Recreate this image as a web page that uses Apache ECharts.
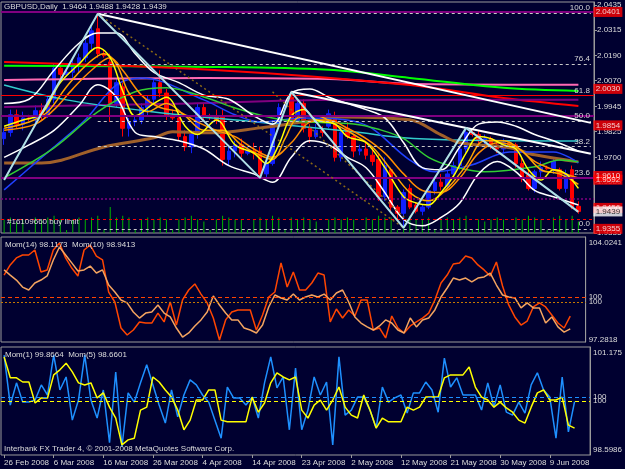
<!DOCTYPE html>
<html>
<head>
<meta charset="utf-8">
<script src="https://cdn.jsdelivr.net/npm/echarts@6/dist/echarts.min.js"></script>
<style>
  html, body { margin: 0; padding: 0; background: #000030; }
  #chart { width: 625px; height: 469px; }
</style>
</head>
<body>
<div id="chart"></div>
<script>
// bars, one per trading day (Sunday bars included), two empty slots for the chart shift
const dates = [
  '26 Feb 2008','27 Feb 2008','28 Feb 2008','29 Feb 2008','2 Mar 2008','3 Mar 2008','4 Mar 2008','5 Mar 2008',
  '6 Mar 2008','7 Mar 2008','9 Mar 2008','10 Mar 2008','11 Mar 2008','12 Mar 2008','13 Mar 2008','14 Mar 2008',
  '16 Mar 2008','17 Mar 2008','18 Mar 2008','19 Mar 2008','20 Mar 2008','23 Mar 2008','24 Mar 2008','25 Mar 2008',
  '26 Mar 2008','27 Mar 2008','28 Mar 2008','30 Mar 2008','31 Mar 2008','1 Apr 2008','2 Apr 2008','3 Apr 2008',
  '4 Apr 2008','6 Apr 2008','7 Apr 2008','8 Apr 2008','9 Apr 2008','10 Apr 2008','11 Apr 2008','13 Apr 2008',
  '14 Apr 2008','15 Apr 2008','16 Apr 2008','17 Apr 2008','18 Apr 2008','20 Apr 2008','21 Apr 2008','22 Apr 2008',
  '23 Apr 2008','24 Apr 2008','25 Apr 2008','27 Apr 2008','28 Apr 2008','29 Apr 2008','30 Apr 2008','1 May 2008',
  '2 May 2008','4 May 2008','5 May 2008','6 May 2008','7 May 2008','8 May 2008','9 May 2008','11 May 2008',
  '12 May 2008','13 May 2008','14 May 2008','15 May 2008','16 May 2008','18 May 2008','19 May 2008','20 May 2008',
  '21 May 2008','22 May 2008','23 May 2008','25 May 2008','26 May 2008','27 May 2008','28 May 2008','29 May 2008',
  '30 May 2008','1 Jun 2008','2 Jun 2008','3 Jun 2008','4 Jun 2008','5 Jun 2008','6 Jun 2008','8 Jun 2008',
  '9 Jun 2008','10 Jun 2008','11 Jun 2008','12 Jun 2008','13 Jun 2008','',''
];

// [open, close, low, high]
const ohlc = [
  [1.9790,1.9820,1.9760,1.9840],[1.9820,1.9905,1.9800,1.9930],[1.9905,1.9860,1.9840,1.9930],[1.9860,1.9890,1.9830,1.9920],
  [1.9890,1.9885,1.9875,1.9905],[1.9885,1.9925,1.9860,1.9950],[1.9925,1.9900,1.9880,1.9960],[1.9900,1.9980,1.9890,2.0000],
  [1.9980,2.0130,1.9960,2.0150],[2.0130,2.0100,2.0080,2.0160],[2.0100,2.0110,2.0090,2.0120],[2.0110,2.0150,2.0070,2.0170],
  [2.0150,2.0180,2.0110,2.0200],[2.0180,2.0250,2.0160,2.0270],[2.0250,2.0310,2.0220,2.0330],[2.0320,2.0200,2.0180,2.0397],
  [2.0200,2.0190,2.0180,2.0220],[2.0160,1.9960,1.9870,2.0200],[1.9960,2.0060,1.9940,2.0080],[2.0040,1.9840,1.9800,2.0060],
  [1.9840,1.9870,1.9800,1.9890],[1.9870,1.9880,1.9850,1.9900],[1.9880,1.9940,1.9860,1.9960],[1.9940,1.9980,1.9900,2.0000],
  [1.9980,2.0060,1.9960,2.0080],[2.0060,2.0010,1.9990,2.0120],[2.0010,1.9900,1.9880,2.0030],[1.9900,1.9890,1.9880,1.9930],
  [1.9890,1.9800,1.9780,1.9910],[1.9800,1.9750,1.9730,1.9830],[1.9750,1.9810,1.9720,1.9830],[1.9810,1.9940,1.9790,1.9960],
  [1.9940,1.9900,1.9880,1.9960],[1.9900,1.9895,1.9880,1.9910],[1.9895,1.9880,1.9860,1.9930],[1.9900,1.9690,1.9660,1.9930],
  [1.9690,1.9730,1.9660,1.9760],[1.9730,1.9760,1.9700,1.9780],[1.9760,1.9720,1.9700,1.9790],[1.9720,1.9730,1.9710,1.9750],
  [1.9730,1.9720,1.9690,1.9770],[1.9730,1.9620,1.9600,1.9750],[1.9620,1.9670,1.9605,1.9690],[1.9670,1.9860,1.9660,1.9880],
  [1.9860,1.9940,1.9840,1.9960],[1.9940,1.9950,1.9920,1.9970],[1.9990,1.9870,1.9850,2.0020],[1.9870,1.9960,1.9860,1.9980],
  [1.9960,1.9840,1.9820,1.9980],[1.9840,1.9800,1.9770,1.9860],[1.9800,1.9830,1.9790,1.9860],[1.9830,1.9820,1.9800,1.9850],
  [1.9850,1.9910,1.9840,1.9930],[1.9900,1.9700,1.9680,1.9920],[1.9700,1.9820,1.9680,1.9840],[1.9840,1.9800,1.9790,1.9870],
  [1.9800,1.9730,1.9700,1.9810],[1.9730,1.9740,1.9710,1.9760],[1.9740,1.9710,1.9690,1.9780],[1.9710,1.9680,1.9660,1.9750],
  [1.9690,1.9510,1.9490,1.9720],[1.9510,1.9660,1.9490,1.9700],[1.9640,1.9460,1.9440,1.9650],[1.9460,1.9430,1.9400,1.9470],
  [1.9430,1.9530,1.9358,1.9545],[1.9550,1.9460,1.9450,1.9570],[1.9470,1.9440,1.9430,1.9480],[1.9440,1.9460,1.9420,1.9470],
  [1.9460,1.9540,1.9450,1.9560],[1.9540,1.9580,1.9520,1.9600],[1.9580,1.9560,1.9540,1.9620],[1.9560,1.9620,1.9550,1.9640],
  [1.9620,1.9660,1.9600,1.9680],[1.9660,1.9740,1.9640,1.9760],[1.9740,1.9820,1.9720,1.9842],[1.9820,1.9810,1.9800,1.9830],
  [1.9810,1.9780,1.9760,1.9830],[1.9780,1.9790,1.9740,1.9810],[1.9790,1.9760,1.9740,1.9800],[1.9760,1.9740,1.9720,1.9780],
  [1.9740,1.9770,1.9720,1.9790],[1.9770,1.9760,1.9750,1.9780],[1.9760,1.9670,1.9650,1.9770],[1.9670,1.9600,1.9580,1.9700],
  [1.9615,1.9550,1.9540,1.9640],[1.9550,1.9630,1.9530,1.9640],[1.9630,1.9650,1.9600,1.9680],[1.9650,1.9645,1.9640,1.9660],
  [1.9645,1.9680,1.9620,1.9700],[1.9640,1.9550,1.9540,1.9650],[1.9550,1.9620,1.9530,1.9640],[1.9640,1.9460,1.9450,1.9660],
  [1.9464,1.9439,1.9428,1.9488]
];

const volumes = [
  7,8,6,7,1.5,8,7,8, 9,7,1.5,7,8,7,8,9, 1.5,13.5,8,9,8,1.5,7,8, 7,8,7,1.5,7,8,9,7,
  6,1.5,7,9,8,7,7,1.5, 7,8,7,9,8,1.5,8,7, 8,7,6,1.5,7,8,7,8, 7,1.5,8,7,9,8,8,1.5,
  8,9,7,7,8,1.5,7,8, 7,8,9,1.5,7,6,7,8, 7,1.5,8,7,9,8,7,1.5, 8,9,7,9,6
];

// moving averages, read at [bar, price]
const maYellow = [[0,1.9850],[3,1.9880],[6,1.9910],[9,2.0060],[12,2.0150],[15,2.0230],[17,2.0180],[19,2.0020],[21,1.9900],[24,1.9960],[26,1.9990],[29,1.9850],[31,1.9810],[34,1.9880],[37,1.9760],[40,1.9720],[42,1.9670],[44,1.9760],[46,1.9900],[48,1.9930],[50,1.9880],[53,1.9860],[55,1.9800],[58,1.9770],[61,1.9650],[64,1.9510],[66,1.9480],[68,1.9470],[70,1.9530],[72,1.9610],[74,1.9720],[76,1.9800],[78,1.9790],[80,1.9760],[82,1.9740],[84,1.9640],[86,1.9590],[88,1.9640],[90,1.9620],[92,1.9550]];
const maOrange = [[0,1.9840],[4,1.9870],[7,1.9920],[10,2.0040],[13,2.0140],[16,2.0200],[18,2.0150],[20,2.0010],[23,1.9920],[26,1.9960],[29,1.9900],[32,1.9830],[35,1.9830],[38,1.9760],[41,1.9710],[43,1.9690],[45,1.9790],[47,1.9890],[50,1.9900],[53,1.9860],[56,1.9810],[59,1.9750],[62,1.9640],[65,1.9530],[68,1.9490],[71,1.9550],[74,1.9660],[77,1.9780],[80,1.9780],[83,1.9730],[86,1.9640],[89,1.9620],[92,1.9570]];
const maGold = [[0,1.9830],[5,1.9860],[8,1.9930],[11,2.0030],[14,2.0120],[17,2.0180],[19,2.0120],[22,2.0000],[25,1.9940],[28,1.9920],[31,1.9870],[34,1.9830],[37,1.9800],[40,1.9740],[43,1.9700],[46,1.9770],[49,1.9870],[52,1.9880],[55,1.9840],[58,1.9790],[61,1.9720],[64,1.9620],[67,1.9540],[70,1.9530],[73,1.9600],[76,1.9720],[79,1.9770],[82,1.9750],[85,1.9680],[88,1.9640],[92,1.9600]];
const bandUpper = [[0,1.9960],[4,1.9980],[8,2.0120],[12,2.0250],[15,2.0300],[18,2.0300],[21,2.0200],[24,2.0110],[28,2.0060],[32,2.0000],[36,1.9980],[40,1.9900],[43,1.9860],[46,2.0010],[49,2.0030],[52,1.9990],[55,1.9960],[58,1.9930],[61,1.9890],[64,1.9770],[67,1.9650],[70,1.9640],[73,1.9750],[76,1.9860],[79,1.9870],[82,1.9850],[85,1.9810],[88,1.9780],[92,1.9730]];
const bandLower = [[0,1.9700],[4,1.9760],[8,1.9830],[12,1.9950],[15,2.0050],[18,1.9990],[21,1.9820],[24,1.9800],[28,1.9780],[32,1.9740],[36,1.9660],[40,1.9620],[43,1.9580],[46,1.9700],[49,1.9780],[52,1.9760],[55,1.9700],[58,1.9650],[61,1.9530],[64,1.9400],[67,1.9370],[70,1.9410],[73,1.9480],[76,1.9620],[79,1.9680],[82,1.9630],[85,1.9540],[88,1.9510],[92,1.9470]];
const maBlue = [[0,1.9543],[5,1.9673],[8,1.9750],[13,1.9881],[18,2.0049],[22,2.0083],[32,1.9977],[37,1.9905],[41,1.9871],[48,1.9890],[57,1.9866],[65,1.9687],[69,1.9630],[75,1.9664],[81,1.9726],[88,1.9726],[92,1.9673]];
const maGreen = [[0,1.9601],[8,1.9746],[15,1.9919],[21,2.0016],[26,2.0035],[32,1.9991],[37,1.9938],[43,1.9890],[48,1.9871],[56,1.9861],[60,1.9835],[64,1.9790],[68,1.9700],[72,1.9655],[77,1.9630],[85,1.9654],[89,1.9687],[92,1.9678]];
const maCyan = [[0,2.0049],[10,1.9977],[24,1.9919],[40,1.9871],[56,1.9823],[64,1.9794],[72,1.9784],[92,1.9779]];
const maBrown = [[0,1.9673],[6,1.9673],[16,1.9750],[24,1.9794],[27,1.9823],[33,1.9818],[41,1.9842],[48,1.9871],[54,1.9895],[65,1.9881],[70,1.9808],[73,1.9770],[81,1.9746],[85,1.9712],[92,1.9678]];
const maPink = [[0,2.0073],[32,2.0083],[52,2.0078],[66,2.0054],[92,2.0050]];
const maLime = [[0,2.0141],[33,2.0136],[52,2.0122],[65,2.0083],[80,2.0035],[92,2.0020]];
const maRed = [[0,2.0160],[33,2.0122],[65,2.0049],[80,1.9986],[92,1.9948]];
const maPurple = [[0,1.9943],[30,1.9960],[55,1.9977],[92,1.9977]];

// drawn objects
const trendTop = [[15,2.0392],[94,1.9866]];
const trendMid = [[46,2.0016],[94,1.9717]];
const trendDot1 = [[15,2.0392],[64,1.9360]];
const trendDot2 = [[43,2.0016],[65,1.9384]];
const zigzag = [[0,1.9591],[15,2.0392],[41,1.9601],[46,2.0016],[64,1.9360],[74,1.9842],[92,1.9437]];
const fibPrices = [2.0397, 2.0150, 1.9999, 1.9876, 1.9753, 1.9601, 1.9355];
const fibLabels = ['100.0', '76.4', '61.8', '50.0', '38.2', '23.6', '0.0'];
const levelPrices = [2.0401, 2.0030, 1.9854, 1.9610, 1.9592, 1.9456, 1.9355];
const lastPrice = 1.9439;
const priceTicks = [1.9335, 1.9455, 1.9580, 1.9700, 1.9825, 1.9945, 2.0070, 2.0190, 2.0315, 2.0435];

// momentum panels
const mom10 = [101.58,102.23,102.68,102.87,102.87,103.19,101.78,101.91,
  103.19,103.64,102.68,102.03,101.52,103.19,103.51,102.80,
  102.55,100.49,99.85,98.18,97.73,98.05,98.57,98.50,
  98.50,99.14,98.57,99.85,98.37,99.98,100.62,101.01,
  100.36,99.79,98.82,97.41,98.70,99.21,99.34,99.34,
  99.34,98.05,99.02,100.17,100.49,102.36,100.81,101.78,
  100.62,100.62,101.07,101.71,101.58,98.57,99.40,98.82,
  99.34,98.95,99.98,99.98,98.05,98.18,97.54,98.95,
  98.18,97.86,98.31,98.57,98.82,99.14,99.98,101.07,
  101.58,102.29,102.36,102.80,102.68,102.23,101.91,101.52,
  102.42,100.88,99.66,98.89,98.37,98.63,99.53,99.79,
  99.53,99.02,98.50,98.18,98.94];
const mom14 = [101.91,101.58,101.26,100.81,100.62,101.07,101.26,101.52,
  102.55,103.38,102.87,102.36,101.84,101.91,102.16,101.71,
  101.91,100.94,100.49,99.98,99.79,99.21,98.82,99.14,
  99.21,99.66,99.14,98.89,98.18,97.60,97.86,98.31,
  98.70,99.21,100.24,99.66,99.14,98.70,98.70,98.18,
  98.05,97.86,98.37,99.53,100.30,100.11,99.98,100.36,
  99.98,100.17,100.30,100.17,100.36,99.98,100.43,100.62,
  99.85,98.89,98.50,98.25,98.05,98.31,98.70,98.50,
  98.05,97.86,98.82,98.25,98.70,98.82,99.34,100.17,
  100.75,101.39,101.26,101.39,101.14,101.39,101.46,101.71,
  100.94,100.30,100.17,100.11,99.47,99.79,99.47,99.47,
  98.50,98.89,98.25,97.92,98.12];
const mom1 = [100.98,99.79,100.32,99.86,99.86,99.91,100.27,100.03,
  100.98,100.15,100.46,99.43,99.91,100.98,99.91,99.48,
  100.15,98.89,100.58,98.79,100.08,99.86,100.32,100.75,
  100.27,99.79,99.36,100.15,99.51,100.03,100.39,100.27,
  100.03,99.86,99.43,99.00,100.22,99.96,99.96,99.79,
  99.98,99.48,100.32,100.94,100.20,100.46,99.20,100.67,
  99.20,99.67,100.46,100.03,100.34,98.84,100.94,99.55,
  99.67,99.98,99.98,99.67,99.24,100.22,99.86,99.96,
  100.03,99.60,100.08,100.08,100.34,100.15,99.62,100.91,
  100.22,100.44,100.03,100.03,100.03,99.67,100.32,99.74,
  100.27,99.62,99.55,99.86,99.60,100.27,100.56,100.15,
  99.98,99.00,100.46,99.15,99.87];
const mom5 = [100.94,100.44,100.44,100.34,100.34,99.84,99.96,99.96,
  100.51,100.63,100.79,100.58,100.32,100.27,100.32,99.96,
  100.08,99.74,99.48,98.84,98.96,99.00,99.67,99.74,
  100.46,100.34,100.15,99.98,99.67,99.20,99.43,99.91,
  99.91,100.15,100.15,99.43,99.39,99.39,99.39,99.39,
  99.98,99.62,99.84,100.32,100.56,100.46,100.39,100.46,
  99.67,99.48,99.79,99.91,99.67,99.91,100.22,99.74,
  99.55,99.48,100.03,99.67,99.24,99.48,99.39,99.39,
  99.39,99.74,99.67,99.74,99.98,99.98,99.98,100.44,
  100.51,100.51,100.51,100.70,100.22,99.98,99.91,99.74,
  99.86,99.72,99.62,99.43,99.36,99.74,100.08,100.15,
  99.91,99.91,99.98,99.31,99.24];
const momATicks = [97.41, 99.85, 100.17, 103.64];
const momATickText = ['97.2818', '100', '100', '104.0241'];
const momBTicks = [98.718, 99.887, 99.982, 101.032];
const momBTickText = ['98.5986', '100', '100', '101.175'];

const FONT = '"Liberation Sans", Arial, sans-serif';
const GRAY = '#9a9a9a';
const TXT = '#dcdcdc';

function pick(ticks, texts) {
  return function (v) {
    let best = 0;
    for (let i = 1; i < ticks.length; i++) {
      if (Math.abs(ticks[i] - v) < Math.abs(ticks[best] - v)) best = i;
    }
    return texts[best];
  };
}

function ma(data, color, width, z) {
  return {
    type: 'line', xAxisIndex: 0, yAxisIndex: 0, data: data, showSymbol: false,
    smooth: 0.35, silent: true, z: z, lineStyle: { color: color, width: width }
  };
}

function seg(data, color, width, type) {
  return {
    type: 'line', xAxisIndex: 0, yAxisIndex: 0, data: data, showSymbol: false,
    silent: true, z: 6, lineStyle: { color: color, width: width, type: type || 'solid' }
  };
}

// price tags at the right edge, placed through the price scale
function tags(values, fill, textColor) {
  return {
    type: 'scatter', xAxisIndex: 0, yAxisIndex: 0, clip: false, silent: true, z: 10,
    data: values.map(v => [94, v]),
    symbol: 'rect', symbolSize: [29, 10], symbolOffset: [17, 0],
    itemStyle: { color: fill },
    label: { show: true, position: 'inside', formatter: p => p.value[1].toFixed(4),
      color: textColor, fontSize: 8, fontFamily: FONT }
  };
}

const levelStyles = [
  { color: '#800080', width: 2, type: 'solid' },
  { color: '#ff0000', width: 1, type: 'solid' },
  { color: '#800080', width: 2, type: 'solid' },
  { color: '#800080', width: 2, type: 'solid' },
  { color: '#800080', width: 2, type: 'solid' },
  { color: '#800080', width: 1.5, type: [2, 2] },
  { color: '#ff0000', width: 1, type: [3, 3] }
];

const levelMarks = levelPrices.map((v, i) => ({ yAxis: v, lineStyle: levelStyles[i] }));

const fibMarks = fibPrices.map((v, i) => [
  { coord: [15, v], lineStyle: { color: '#c8c8c8', width: 1, type: [3, 3] },
    label: { show: true, position: 'insideEndTop', distance: 1, formatter: fibLabels[i],
      color: '#d8d8d8', fontSize: 8, fontFamily: FONT } },
  { coord: [94, v] }
]);

const hiddenX = { type: 'category', data: dates, boundaryGap: true, axisLine: { show: false },
  axisTick: { show: false }, axisLabel: { show: false }, splitLine: { show: false } };

const option = {
  backgroundColor: '#000030',
  animation: false,
  grid: [
    { left: 1, top: 2, width: 593, height: 231, show: true, borderColor: GRAY, borderWidth: 1 },
    { left: 1, top: 237, width: 593, height: 105, show: true, borderColor: GRAY, borderWidth: 1 },
    { left: 1, top: 347, width: 593, height: 108, show: true, borderColor: GRAY, borderWidth: 1 }
  ],
  xAxis: [
    Object.assign({ gridIndex: 0 }, hiddenX),
    Object.assign({ gridIndex: 1 }, hiddenX),
    {
      gridIndex: 2, type: 'category', data: dates, boundaryGap: true,
      axisLine: { show: false },
      axisTick: { show: true, interval: 7, alignWithLabel: true, length: 3, lineStyle: { color: GRAY } },
      axisLabel: { interval: 7, align: 'left', color: TXT, fontSize: 8, fontFamily: FONT, margin: 4 },
      splitLine: { show: false }
    }
  ],
  yAxis: [
    {
      gridIndex: 0, type: 'value', position: 'right', min: 1.9335, max: 2.0449,
      splitLine: { show: false }, axisLine: { show: true, lineStyle: { color: GRAY } },
      axisTick: { show: true, customValues: priceTicks, length: 3, lineStyle: { color: GRAY } },
      axisLabel: { customValues: priceTicks, formatter: v => v.toFixed(4), color: TXT,
        fontSize: 8, fontFamily: FONT, margin: 3 }
    },
    { gridIndex: 0, type: 'value', min: 0, max: 120, show: false },
    {
      gridIndex: 1, type: 'value', position: 'right', min: 97.2818, max: 104.0241,
      splitLine: { show: false }, axisLine: { show: true, lineStyle: { color: GRAY } },
      axisTick: { show: false },
      axisLabel: { customValues: momATicks, formatter: pick(momATicks, momATickText), color: TXT,
        fontSize: 8, fontFamily: FONT, margin: 3 }
    },
    {
      gridIndex: 2, type: 'value', position: 'right', min: 98.5986, max: 101.175,
      splitLine: { show: false }, axisLine: { show: true, lineStyle: { color: GRAY } },
      axisTick: { show: false },
      axisLabel: { customValues: momBTicks, formatter: pick(momBTicks, momBTickText), color: TXT,
        fontSize: 8, fontFamily: FONT, margin: 3 }
    }
  ],
  series: [
    { type: 'bar', xAxisIndex: 0, yAxisIndex: 1, data: volumes, barWidth: 1, silent: true, z: 1,
      itemStyle: { color: '#00b400' } },
    { type: 'candlestick', xAxisIndex: 0, yAxisIndex: 0, data: ohlc, barWidth: 4, silent: true, z: 2,
      itemStyle: { color: '#1020ff', color0: '#ff0000', borderColor: '#1020ff', borderColor0: '#ff0000', borderWidth: 1 } },
    ma(maPink, '#ff69b4', 2, 3),
    ma(maLime, '#00ff00', 2, 3),
    ma(maRed, '#ff0000', 2, 3),
    ma(maPurple, '#800080', 2, 3),
    ma(maCyan, '#33cccc', 1.5, 3),
    ma(maBrown, '#a0602a', 3, 3),
    ma(maBlue, '#2040ff', 1.5, 3),
    ma(maGreen, '#32cd32', 1.5, 3),
    ma(bandUpper, '#ffffff', 1.5, 4),
    ma(bandLower, '#ffffff', 1.5, 4),
    ma(maGold, '#ff8c00', 1.5, 4),
    ma(maOrange, '#ffa500', 1.5, 4),
    ma(maYellow, '#ffff00', 1.5, 4),
    Object.assign(seg(trendTop, '#ffffff', 2), {
      markLine: { symbol: 'none', silent: true, animation: false, data: fibMarks }
    }),
    seg(trendMid, '#ffffff', 2),
    seg(trendDot1, '#8b6914', 1.5, [2, 3]),
    seg(trendDot2, '#8b6914', 1.5, [2, 3]),
    Object.assign(seg(zigzag, '#b0e0e6', 2), {
      markLine: { symbol: 'none', silent: true, animation: false, label: { show: false }, data: levelMarks }
    }),
    tags(levelPrices, '#ff0000', '#ffffff'),
    tags([lastPrice], '#ffffff', '#000000'),
    {
      type: 'line', xAxisIndex: 1, yAxisIndex: 2, data: mom10, showSymbol: false, silent: true,
      lineStyle: { color: '#ff4500', width: 1.5 },
      markLine: { symbol: 'none', silent: true, animation: false, label: { show: false },
        data: [
          { yAxis: 100.17, lineStyle: { color: '#ff4500', width: 1, type: [4, 3] } },
          { yAxis: 99.85, lineStyle: { color: '#c87800', width: 1, type: [2, 2] } }
        ] }
    },
    {
      type: 'line', xAxisIndex: 1, yAxisIndex: 2, data: mom14, showSymbol: false, silent: true,
      lineStyle: { color: '#f4a460', width: 1.5 }
    },
    {
      type: 'line', xAxisIndex: 2, yAxisIndex: 3, data: mom1, showSymbol: false, silent: true,
      lineStyle: { color: '#1e90ff', width: 1.5 },
      markLine: { symbol: 'none', silent: true, animation: false, label: { show: false },
        data: [
          { yAxis: 99.982, lineStyle: { color: '#1e90ff', width: 1, type: [4, 3] } },
          { yAxis: 99.887, lineStyle: { color: '#ffff00', width: 1, type: [4, 3] } }
        ] }
    },
    {
      type: 'line', xAxisIndex: 2, yAxisIndex: 3, data: mom5, showSymbol: false, silent: true,
      lineStyle: { color: '#ffff00', width: 1.5 }
    }
  ],
  graphic: [
    { type: 'text', left: 4, top: 3, z: 100,
      style: { text: 'GBPUSD,Daily  1.9464 1.9488 1.9428 1.9439', fill: TXT, fontSize: 8, fontFamily: FONT } },
    { type: 'text', left: 7, top: 218, z: 100,
      style: { text: '#16109660 buy limit', fill: TXT, fontSize: 8, fontFamily: FONT } },
    { type: 'text', left: 5, top: 241, z: 100,
      style: { text: 'Mom(14) 98.1173  Mom(10) 98.9413', fill: TXT, fontSize: 8, fontFamily: FONT } },
    { type: 'text', left: 5, top: 351, z: 100,
      style: { text: 'Mom(1) 99.8664  Mom(5) 98.6601', fill: TXT, fontSize: 8, fontFamily: FONT } },
    { type: 'text', left: 4, top: 445, z: 100,
      style: { text: 'Interbank FX Trader 4, \u00a9 2001-2008 MetaQuotes Software Corp.', fill: TXT, fontSize: 8, fontFamily: FONT } }
  ]
};

const chart = echarts.init(document.getElementById('chart'));
chart.setOption(option);
</script>
</body>
</html>
